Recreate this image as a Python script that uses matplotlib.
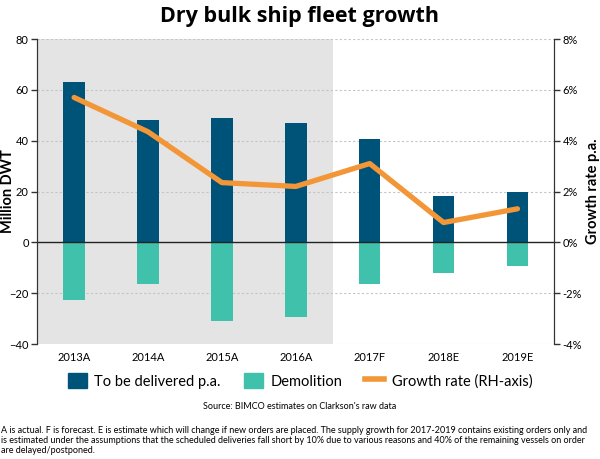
import matplotlib
matplotlib.use("Agg")
import matplotlib.pyplot as plt
from matplotlib.patches import Patch
from matplotlib.lines import Line2D
from matplotlib.ticker import FuncFormatter

years = ["2013A", "2014A", "2015A", "2016A", "2017F", "2018E", "2019E"]
delivered = [63, 48, 49, 47, 40.5, 18.2, 19.8]
demolition = [-22.5, -16.5, -30.8, -29.4, -16.3, -12.2, -9.2]
growth = [5.7, 4.35, 2.35, 2.2, 3.1, 0.78, 1.32]
n_actual = 4

dark_blue = "#005378"
teal = "#40c1ac"
orange = "#f39638"

plt.rcParams["font.family"] = ["Lato", "DejaVu Sans"]

fig = plt.figure(figsize=(6, 4.59), dpi=100)
ax = fig.add_axes([0.062, 0.2505, 0.862, 0.6645])
ax2 = ax.twinx()

x = list(range(len(years)))
ax.axvspan(-0.5, n_actual - 0.5, color="#e4e4e4", zorder=0, lw=0)
for v in range(-40, 81, 20):
    if v != 0:
        ax.axhline(v, color="#c4c4c4", lw=0.8, ls=(0, (2, 2)), zorder=1)
ax.bar(x, delivered, width=0.29, color=dark_blue, zorder=2)
ax.bar(x, demolition, width=0.29, color=teal, zorder=2)
ax.axhline(0, color="#222222", lw=1, zorder=3)

ax2.plot(x, growth, color=orange, lw=3.8, solid_capstyle="round", zorder=4)

ax.set_xlim(-0.5, 6.5)
ax.set_ylim(-40, 80)
ax2.set_ylim(-4, 8)
ax.set_yticks(range(-40, 81, 20))
ax2.set_yticks(range(-4, 9, 2))
ax2.yaxis.set_major_formatter(FuncFormatter(lambda v, p: f"{v:.0f}%"))
ax.set_xticks(x)
ax.set_xticklabels(years, fontsize=8)
ax.tick_params(axis="x", length=0, pad=6)
ax.tick_params(axis="y", labelsize=8, length=4, width=1, color="#333333", pad=2)
ax2.tick_params(axis="y", labelsize=8, length=4, width=1, color="#333333", pad=2)

for a in (ax, ax2):
    a.spines["top"].set_visible(False)
    a.spines["bottom"].set_visible(False)
    a.spines["left"].set_color("#333333")
    a.spines["right"].set_color("#333333")
ax.patch.set_visible(False)
ax2.patch.set_visible(False)
ax2.set_zorder(ax.get_zorder() + 1)

ax.set_ylabel("Million DWT", fontsize=10.5, fontweight="bold")
ax.yaxis.set_label_coords(-0.043, 0.5)
ax2.set_ylabel("Growth rate p.a.", fontsize=10.5, fontweight="bold")
ax2.yaxis.set_label_coords(1.062, 0.5)

fig.text(0.5, 0.965, "Dry bulk ship fleet growth", ha="center", va="center",
         fontsize=15.5, fontweight="bold", family=["Open Sans", "DejaVu Sans"])

handles = [
    Patch(color=dark_blue, label="To be delivered p.a."),
    Patch(color=teal, label="Demolition"),
    Line2D([0], [0], color=orange, lw=4, label="Growth rate (RH-axis)"),
]
fig.legend(handles=handles, loc="center", bbox_to_anchor=(0.5, 0.17), ncol=3,
           frameon=False, fontsize=10.5, handlelength=1.3, handleheight=1.2,
           columnspacing=1.6, handletextpad=0.5)

fig.text(0.5, 0.115, "Source: BIMCO estimates on Clarkson's raw data", ha="center",
         va="center", fontsize=6.5)
fig.text(0.002, 0.071,
         "A is actual. F is forecast. E is estimate which will change if new orders are placed. "
         "The supply growth for 2017-2019 contains existing orders only and\n"
         "is estimated under the assumptions that the scheduled deliveries fall short by 10% due to "
         "various reasons and 40% of the remaining vessels on order\n"
         "are delayed/postponed.",
         ha="left", va="top", fontsize=6.5, linespacing=1.12)

fig.savefig("out.png", dpi=100)
